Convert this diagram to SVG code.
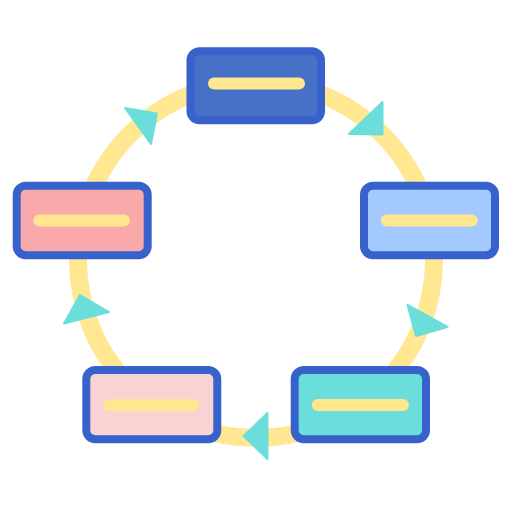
<svg xmlns="http://www.w3.org/2000/svg" width="512" height="512" viewBox="0 0 512 512">
<style>
.ring{fill:none;stroke:#ffe891;stroke-width:18}
.arrow{fill:#6bdedc;stroke:#6bdedc;stroke-width:2;stroke-linejoin:round}
.box{stroke:#3762cc;stroke-width:8}
.bar{stroke:#ffe68f;stroke-width:12;stroke-linecap:round}
</style>
<g id="connectors">
<circle class="ring" cx="256" cy="260" r="178"/>
<polygon class="arrow" points="125,108 157,113.5 151,144"/>
<polygon class="arrow" points="349,134 382.5,102 382.5,134.5"/>
<polygon class="arrow" points="407.5,305 447.5,327 416,336"/>
<polygon class="arrow" points="109,312 64,323.5 80,295"/>
<polygon class="arrow" points="267.5,413 267.5,459 243.5,436"/>
</g>
<g id="node-top">
<rect class="box" x="190.5" y="51.3" width="130.5" height="69" rx="9" fill="#4671c6"/>
<line class="bar" x1="214" y1="83.5" x2="299" y2="83.5"/>
</g>
<g id="node-right">
<rect class="box" x="364" y="185.7" width="131" height="69.6" rx="9" fill="#a4c9ff"/>
<line class="bar" x1="387" y1="220.5" x2="471.7" y2="220.5"/>
</g>
<g id="node-bottom-right">
<rect class="box" x="294.7" y="370" width="131.3" height="69.3" rx="9" fill="#6bdedb"/>
<line class="bar" x1="317.7" y1="405" x2="403" y2="405"/>
</g>
<g id="node-bottom-left">
<rect class="box" x="86.3" y="370" width="131" height="69.3" rx="9" fill="#f9d2d3"/>
<line class="bar" x1="109.3" y1="405" x2="193.3" y2="405"/>
</g>
<g id="node-left">
<rect class="box" x="16.7" y="185.7" width="131" height="69.6" rx="9" fill="#f9a9a9"/>
<line class="bar" x1="39.3" y1="220.5" x2="124" y2="220.5"/>
</g>
</svg>
